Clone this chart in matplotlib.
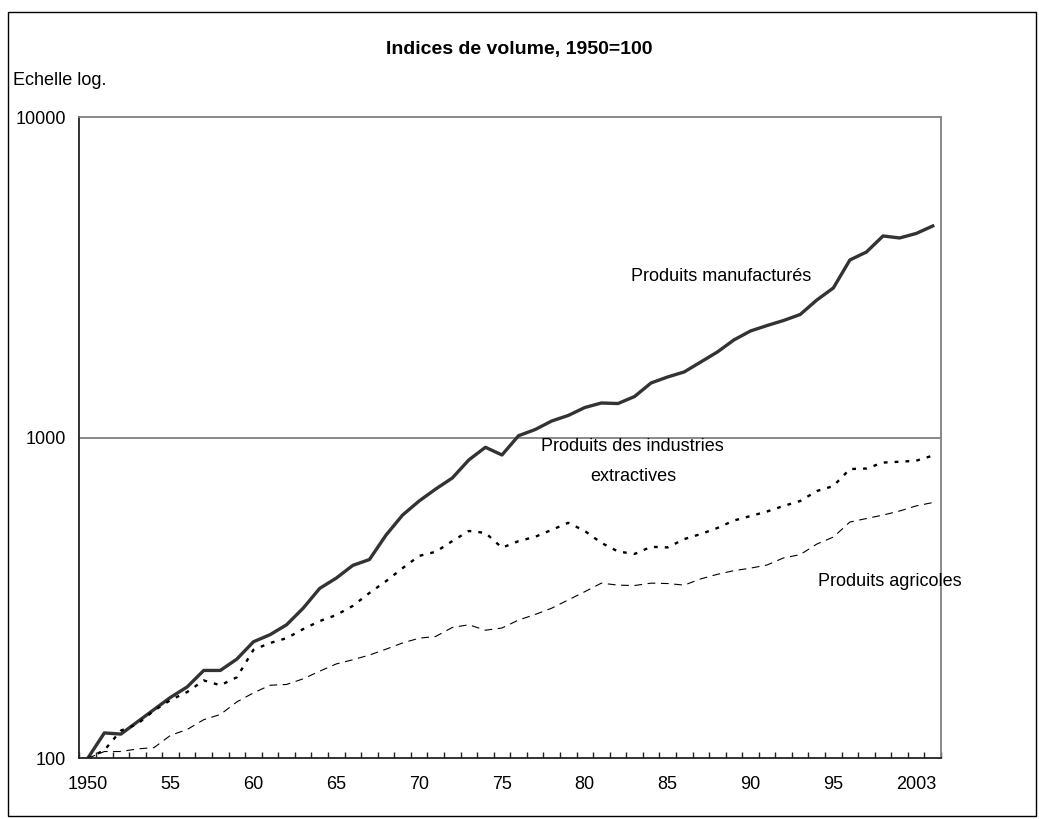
import numpy as np
import matplotlib
matplotlib.use('Agg')
import matplotlib.pyplot as plt
from matplotlib.patches import Rectangle

plt.rcParams['font.family'] = ['Liberation Sans', 'DejaVu Sans']

# %% data (volume indices, 1950=100), one value per category
tick_pos = [0, 5, 10, 15, 20, 25, 30, 35, 40, 45, 50]
tick_lab = ['1950', '55', '60', '65', '70', '75', '80', '85', '90', '95', '2003']

manuf = [100, 120, 119, 130, 142, 155, 167, 188, 188, 204,
         231, 243, 261, 294, 339, 365, 400, 417, 497, 574,
         635, 692, 749, 853, 934, 884, 1015, 1061, 1128, 1174,
         1243, 1284, 1279, 1345, 1483, 1548, 1605, 1724, 1852, 2020,
         2154, 2240, 2323, 2425, 2690, 2934, 3588, 3799, 4263, 4202,
         4340, 4580]

extract = [100, 106, 122, 128, 141, 152, 161, 175, 169, 179,
           218, 229, 237, 253, 268, 280, 299, 328, 357, 392,
           428, 441, 476, 512, 505, 454, 476, 491, 516, 543,
           512, 470, 442, 434, 457, 455, 483, 501, 523, 552,
           570, 589, 613, 635, 682, 707, 799, 802, 837, 842,
           848, 880]

agri = [100, 105, 105, 107, 108, 118, 123, 132, 137, 150,
        160, 169, 170, 177, 187, 197, 203, 210, 219, 229,
        237, 240, 256, 261, 251, 255, 270, 281, 294, 312,
        331, 352, 347, 346, 352, 351, 347, 363, 375, 385,
        392, 401, 422, 432, 466, 490, 546, 560, 574, 591,
        613, 628]

x = np.arange(len(manuf))

# %%
fig = plt.figure(figsize=(10.39, 8.19), dpi=100)
ax = fig.add_axes([0.0765, 0.0741, 0.8292, 0.7827])

ax.plot(x, manuf, color='#333333', lw=2.4, solid_joinstyle='round')
ax.plot(x, extract, color='black', lw=1.7, ls=(0, (1.6, 3.0)))
ax.plot(x, agri, color='black', lw=0.8, ls=(0, (7, 5)))

ax.set_yscale('log')
ax.set_ylim(100, 10000)
ax.set_xlim(-0.5, len(manuf) - 0.5)
ax.axhline(1000, color='#808080', lw=1.3, zorder=0)

ax.set_yticks([100, 1000, 10000])
ax.set_yticklabels(['100', '1000', '10000'])
ax.yaxis.set_minor_locator(matplotlib.ticker.NullLocator())
ax.tick_params(axis='y', length=0, pad=9.5, labelsize=13)

# ticks between categories, labels on categories
ax.set_xticks(np.arange(-0.5, len(manuf), 1))
ax.set_xticklabels([])
ax.tick_params(axis='x', which='major', direction='in', length=4, width=1, color='#222222')
ax.set_xticks(tick_pos, minor=True)
ax.set_xticklabels(tick_lab, minor=True)
ax.tick_params(axis='x', which='minor', length=0, pad=13, labelsize=13)

for s in ['left', 'bottom']:
    ax.spines[s].set_color('#222222')
    ax.spines[s].set_linewidth(1.3)
for s in ['top', 'right']:
    ax.spines[s].set_color('#808080')
    ax.spines[s].set_linewidth(1.3)

ax.text(38.2, 3175, 'Produits manufacturés', fontsize=13, ha='center', va='center')
ax.text(32.9, 843, 'Produits des industries\nextractives', fontsize=13,
        ha='center', va='center', linespacing=1.95)
ax.text(48.4, 357, 'Produits agricoles', fontsize=13, ha='center', va='center')

fig.text(0.5, 0.939, 'Indices de volume, 1950=100', fontsize=14, fontweight='bold',
         ha='center', va='center')
fig.text(0.0125, 0.902, 'Echelle log.', fontsize=13, ha='left', va='center')

fig.patches.append(Rectangle((8 / 1039, 3 / 819), 1028 / 1039, 804 / 819,
                             transform=fig.transFigure, fill=False,
                             edgecolor='black', lw=1))

fig.savefig('out.png', dpi=100)
